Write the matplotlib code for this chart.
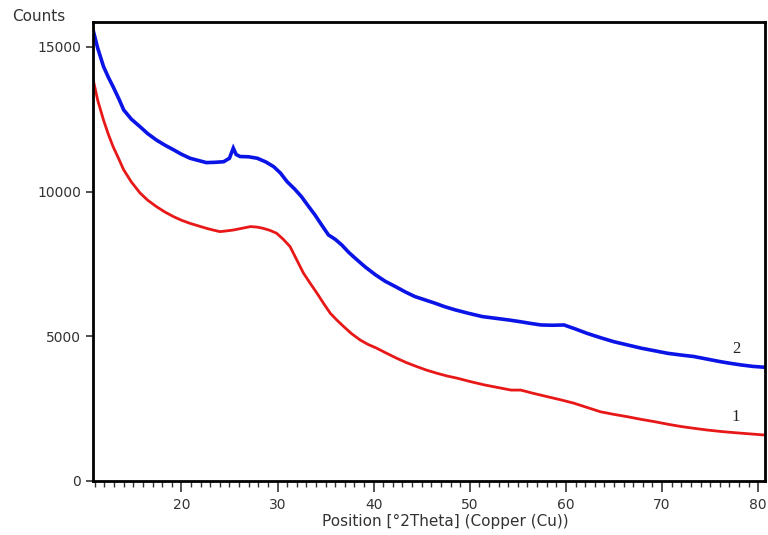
import matplotlib
matplotlib.use("Agg")
import matplotlib.pyplot as plt
from matplotlib.ticker import MultipleLocator

plt.rcParams["font.family"] = ["DejaVu Sans"]

# values (2theta, counts)
x_blue = [10.8, 11.3, 11.9, 12.4, 12.9, 13.5, 14.0, 14.8, 15.7, 16.5, 17.4, 18.3,
          19.2, 20.0, 20.9, 21.8, 22.6, 23.5, 24.4, 25.0, 25.4, 25.7, 26.1, 27.0,
          27.9, 28.8, 29.6, 30.3, 31.0, 31.8, 32.5, 33.2, 33.9, 34.6, 35.3, 36.0,
          36.7, 37.4, 38.1, 39.1, 40.2, 41.2, 42.3, 43.3, 44.3, 45.4, 46.4, 47.4,
          48.5, 49.9, 51.3, 52.7, 54.1, 55.3, 56.2, 57.4, 58.6, 59.8, 61.0, 62.2,
          63.6, 65.0, 66.4, 67.8, 69.2, 70.6, 72.0, 73.3, 74.7, 76.1, 77.2, 78.2,
          79.4, 80.6]
y_blue = [15600, 14950, 14320, 13950, 13620, 13200, 12820, 12500, 12240, 12000, 11780, 11600,
          11440, 11290, 11150, 11070, 11000, 11010, 11030, 11150, 11500, 11280, 11210, 11200,
          11150, 11020, 10860, 10640, 10340, 10080, 9820, 9500, 9190, 8840, 8500, 8350,
          8150, 7900, 7690, 7400, 7120, 6900, 6710, 6530, 6370, 6250, 6140, 6020,
          5910, 5790, 5680, 5620, 5560, 5500, 5450, 5390, 5380, 5390, 5250, 5100,
          4950, 4810, 4700, 4590, 4500, 4410, 4350, 4300, 4210, 4120, 4060, 4010,
          3960, 3930]

x_red = [10.8, 11.3, 11.9, 12.4, 12.9, 13.5, 14.0, 14.8, 15.7, 16.5, 17.4, 18.3,
         19.2, 20.0, 20.9, 21.8, 22.6, 23.3, 24.0, 24.7, 25.4, 26.3, 27.2, 27.9,
         28.5, 29.2, 29.9, 30.6, 31.3, 32.0, 32.7, 33.4, 34.1, 34.8, 35.5, 36.2,
         36.9, 37.7, 38.6, 39.4, 40.3, 41.3, 42.4, 43.4, 44.5, 45.5, 46.6, 47.6,
         48.7, 50.1, 51.5, 52.9, 54.3, 55.3, 56.7, 58.1, 59.5, 60.8, 62.2, 63.6,
         65.0, 66.4, 67.8, 69.2, 70.6, 72.0, 73.3, 74.7, 76.1, 77.5, 79.0, 80.6]
y_red = [13900, 13150, 12470, 11980, 11550, 11120, 10750, 10330, 9950, 9700, 9480, 9290,
         9130, 9010, 8900, 8810, 8730, 8670, 8615, 8640, 8670, 8730, 8790, 8770,
         8730, 8660, 8560, 8350, 8100, 7640, 7180, 6830, 6490, 6130, 5790, 5550,
         5330, 5090, 4870, 4720, 4590, 4420, 4240, 4090, 3950, 3830, 3720, 3630,
         3550, 3430, 3320, 3230, 3140, 3140, 3020, 2910, 2800, 2690, 2540, 2390,
         2300, 2220, 2130, 2050, 1960, 1880, 1820, 1760, 1710, 1670, 1630, 1590]

xmin, xmax = 10.8, 80.7
ymin, ymax = 0, 15860

fig = plt.figure(figsize=(7.68, 5.35), dpi=100)
ax = fig.add_axes([0.121, 0.101, 0.875, 0.858])

ax.plot(x_blue, y_blue, color="#0a14e6", lw=2.6, solid_joinstyle="miter")
ax.plot(x_red, y_red, color="#e81818", lw=2.0, solid_joinstyle="miter")

ax.text(77.7, 4570, "2", fontsize=12, family="Liberation Serif", ha="center", va="center", color="#222222")
ax.text(77.7, 2210, "1", fontsize=12, family="Liberation Serif", ha="center", va="center", color="#222222")

ax.set_xlim(xmin, xmax)
ax.set_ylim(ymin, ymax)
ax.set_yticks([0, 5000, 10000, 15000])
ax.xaxis.set_major_locator(MultipleLocator(10))
ax.xaxis.set_minor_locator(MultipleLocator(1))
ax.tick_params(axis="x", which="major", direction="out", length=8, width=1.2, labelsize=10, colors="#333333", pad=4)
ax.tick_params(axis="x", which="minor", direction="out", length=4, width=1.0, colors="#333333")
ax.tick_params(axis="y", which="major", direction="out", length=5, width=1.2, labelsize=10, colors="#333333")

for s in ax.spines.values():
    s.set_linewidth(2.0)
    s.set_color("black")

ax.set_xlabel("Position [\u00b02Theta] (Copper (Cu))", fontsize=11, color="#333333", va="center")
ax.xaxis.set_label_coords(0.525, -0.089)
fig.text(0.016, 0.97, "Counts", fontsize=11, color="#333333", ha="left", va="center")

fig.savefig("out.png", dpi=100)
